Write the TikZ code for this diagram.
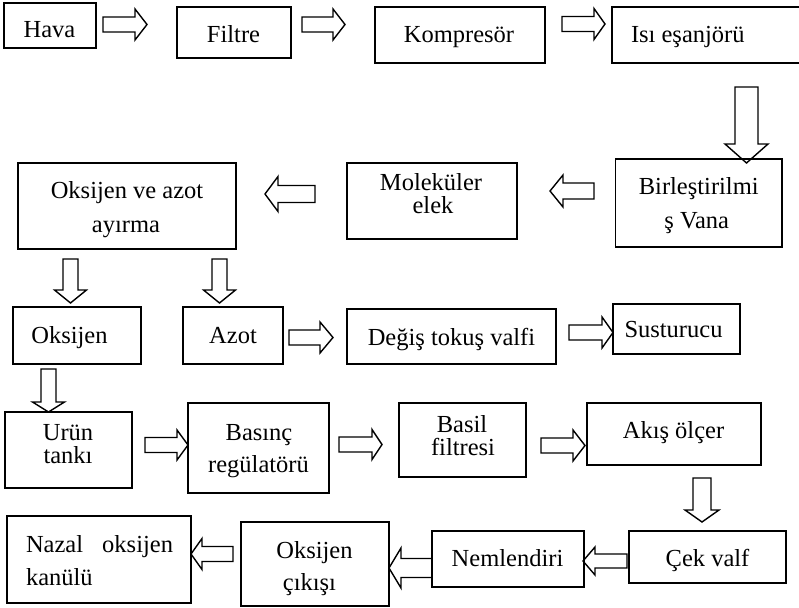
\documentclass[tikz,border=0pt]{standalone}
\usepackage{fontspec}
\setmainfont{Liberation Serif}
\usetikzlibrary{calc}
% text line: x offset of centre, baseline offset (up), text
\newcommand\tline[3]{\raisebox{#2pt}[0pt][0pt]{\makebox[0pt]{\kern#1pt\kern#1pt #3}}}
% left-aligned text line: left x offset, baseline offset, text
\newcommand\lline[3]{\raisebox{#2pt}[0pt][0pt]{\makebox[0pt][l]{\kern#1pt #3}}}
% hollow block arrow: from, to, shaft half width, head half width, head length
\newcommand\barrow[5]{%
  \path (#1) coordinate (t0) (#2) coordinate (t1);
  \path ($(t1)!#5pt!(t0)$) coordinate (tn);
  \draw[arr] ($(t0)!#3pt!90:(t1)$) -- ($(tn)!#3pt!90:(t1)$) -- ($(tn)!#4pt!90:(t1)$) -- (t1)
    -- ($(tn)!#4pt!-90:(t1)$) -- ($(tn)!#3pt!-90:(t1)$) -- ($(t0)!#3pt!-90:(t1)$) -- cycle;}
\begin{document}
\begin{tikzpicture}[x=1pt,y=-1pt,
  box/.style={draw, line width=1.5pt, rectangle, inner sep=0pt, font=\fontsize{24.5}{28}\selectfont},
  arr/.style={draw, line width=1.4pt, fill=white, line join=miter}]
\useasboundingbox (0,0) rectangle (799,607);
\fill[white] (0,0) rectangle (799,607);
\clip (0,0) rectangle (799,607);

% arrow end points
\coordinate (a1s) at (103,24.5);  \coordinate (a1e) at (147,24.5);
\coordinate (a2s) at (302,24.5);  \coordinate (a2e) at (345,24.5);
\coordinate (a3s) at (562,24);    \coordinate (a3e) at (605,24);
\coordinate (a4s) at (746.5,87);  \coordinate (a4e) at (746.5,163);
\coordinate (a5s) at (594,191);   \coordinate (a5e) at (550,191);
\coordinate (a6s) at (315,194);   \coordinate (a6e) at (265,194);
\coordinate (a7s) at (70.5,259);  \coordinate (a7e) at (70.5,303);
\coordinate (a8s) at (219.5,259); \coordinate (a8e) at (219.5,303);
\coordinate (a9s) at (289,337.5); \coordinate (a9e) at (333,337.5);
\coordinate (a10s) at (569,332.5);\coordinate (a10e) at (613,332.5);
\coordinate (a11s) at (48.5,369); \coordinate (a11e) at (48.5,412);
\coordinate (a12s) at (145,445);  \coordinate (a12e) at (188,445);
\coordinate (a13s) at (339,444.5);\coordinate (a13e) at (382,444.5);
\coordinate (a14s) at (541,445.5);\coordinate (a14e) at (585,445.5);
\coordinate (a15s) at (702,478);  \coordinate (a15e) at (702,522);
\coordinate (a16s) at (627,561);  \coordinate (a16e) at (583,561);
\coordinate (a17s) at (432,568);  \coordinate (a17e) at (389,568);
\coordinate (a18s) at (233,554);  \coordinate (a18e) at (191,554);

\barrow{a1s}{a1e}{7.5}{15.5}{12}
\barrow{a2s}{a2e}{7.5}{15.5}{12}
\barrow{a3s}{a3e}{7.5}{15.5}{11}
\barrow{a4s}{a4e}{11.5}{21.5}{19}
\barrow{a5s}{a5e}{8}{16}{13}
\barrow{a6s}{a6e}{8.5}{17.5}{13}
\barrow{a7s}{a7e}{7.5}{16}{13}
\barrow{a8s}{a8e}{7.5}{16}{13}
\barrow{a9s}{a9e}{7.5}{15.5}{13}
\barrow{a10s}{a10e}{7.5}{15.5}{11}
\barrow{a11s}{a11e}{7.5}{16}{10}
\barrow{a12s}{a12e}{7.5}{15}{11}
\barrow{a13s}{a13e}{7.5}{15}{10}
\barrow{a14s}{a14e}{7.5}{15.5}{12}
\barrow{a15s}{a15e}{9}{17}{12}
\barrow{a16s}{a16e}{7}{14}{12}
\barrow{a17s}{a17e}{9.5}{20}{12}
\barrow{a18s}{a18e}{7.5}{15.5}{11}

% boxes
\node[box, minimum width=92pt,  minimum height=45pt] (hava)   at (50,25.5)   {\tline{-0.5}{-12.2}{Hava}};
\node[box, minimum width=114pt, minimum height=51pt] (filtre) at (234,32.5)  {\tline{-0.5}{-10.5}{Filtre}};
\node[box, minimum width=170pt, minimum height=56pt] (komp)   at (460,35)    {\tline{-1}{-8}{Kompresör}};
\node[box, minimum width=200pt, minimum height=56pt] (isi)    at (712,35)    {\lline{-81}{-8}{Isı eşanjörü}};
\node[box, minimum width=166.5pt, minimum height=88pt] (birl) at (698.75,203) {\tline{0}{9}{Birleştirilmi}\tline{-2}{-25}{ş Vana}};
\node[box, minimum width=170pt, minimum height=76pt] (molek)  at (432,201)   {\tline{-1}{11}{Moleküler}\tline{1}{-12}{elek}};
\node[box, minimum width=218pt, minimum height=86pt] (ayirma) at (127,206)   {\tline{0}{8}{Oksijen ve azot}\tline{-1}{-26}{ayırma}};
\node[box, minimum width=128pt, minimum height=57pt] (oksijen) at (77,335.5) {\tline{-7.5}{-7.5}{Oksijen}};
\node[box, minimum width=100pt, minimum height=57pt] (azot)   at (233,335.5) {\tline{0}{-7.5}{Azot}};
\node[box, minimum width=209pt, minimum height=55pt] (degis)  at (451.5,336.5) {\tline{0}{-8.5}{Değiş tokuş valfi}};
\node[box, minimum width=127pt, minimum height=50pt] (sust)   at (676.5,329) {\tline{-3}{-8}{Susturucu}};
\node[box, minimum width=127pt, minimum height=76pt] (urun)   at (68.5,450)  {\tline{-0.5}{10}{Urün}\tline{-0.5}{-13}{tankı}};
\node[box, minimum width=141pt, minimum height=90pt] (basinc) at (258.5,448) {\tline{0.5}{8}{Basınç}\tline{0}{-24}{regülatörü}};
\node[box, minimum width=127pt, minimum height=74pt] (basil)  at (462.5,440) {\tline{-0.5}{8}{Basil}\tline{0.5}{-15}{filtresi}};
\node[box, minimum width=174pt, minimum height=62pt] (akis)   at (674,434)   {\tline{-0.5}{-4}{Akış ölçer}};
\node[box, minimum width=157pt, minimum height=52pt] (cek)    at (707.5,557) {\tline{0}{-9}{Çek valf}};
\node[box, minimum width=152pt, minimum height=56pt] (neml)   at (508,559)   {\tline{-0.5}{-7}{Nemlendiri}};
\node[box, minimum width=148pt, minimum height=84pt] (cikis)  at (315,564)   {\tline{-0.5}{6}{Oksijen}\tline{-5.5}{-26}{çıkışı}};
\node[box, minimum width=184pt, minimum height=87pt] (nazal)  at (99,559.5)  {\lline{-73}{7.5}{\makebox[147pt][s]{Nazal\hfill oksijen}}\lline{-73}{-25.5}{kanülü}};
\end{tikzpicture}
\end{document}
